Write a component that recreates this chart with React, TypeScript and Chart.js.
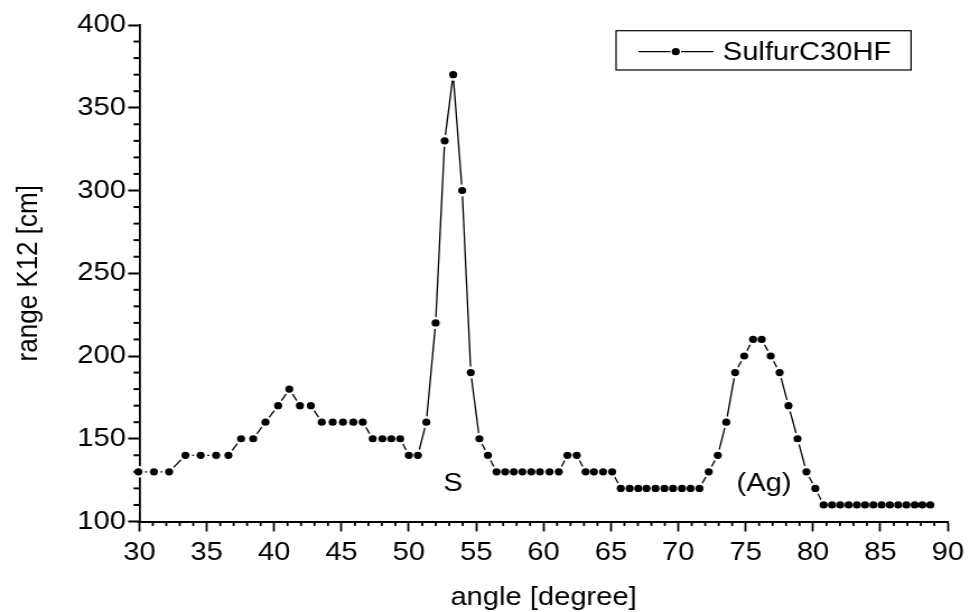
import React, { useEffect, useRef } from 'react';
import { Chart, registerables } from 'chart.js';

Chart.register(...registerables);

// ---- data ----
const SERIES_LABEL = 'SulfurC30HF';
const X_TITLE = 'angle [degree]';
const Y_TITLE = 'range K12 [cm]';

const angles = [
  29.93, 31.08, 32.21, 33.42, 34.55, 35.7, 36.61, 37.55, 38.45, 39.36,
  40.3, 41.13, 41.92, 42.73, 43.54, 44.35, 45.11, 45.88, 46.58, 47.32,
  48.04, 48.7, 49.36, 50.0, 50.67, 51.3, 51.99, 52.66, 53.29, 53.96,
  54.6, 55.24, 55.87, 56.51, 57.15, 57.79, 58.43, 59.09, 59.73, 60.44,
  61.13, 61.77, 62.46, 63.12, 63.74, 64.42, 65.09, 65.73, 66.39, 67.03,
  67.64, 68.31, 68.97, 69.61, 70.27, 70.91, 71.57, 72.26, 72.93, 73.56,
  74.22, 74.89, 75.55, 76.19, 76.86, 77.52, 78.18, 78.85, 79.51, 80.17,
  80.79, 81.41, 82.02, 82.64, 83.25, 83.86, 84.48, 85.09, 85.7, 86.32,
  86.93, 87.55, 88.11, 88.7,
];

const ranges = [
  130, 130, 130, 140, 140, 140, 140, 150, 150, 160,
  170, 180, 170, 170, 160, 160, 160, 160, 160, 150,
  150, 150, 150, 140, 140, 160, 220, 330, 370, 300,
  190, 150, 140, 130, 130, 130, 130, 130, 130, 130,
  130, 140, 140, 130, 130, 130, 130, 120, 120, 120,
  120, 120, 120, 120, 120, 120, 120, 130, 140, 160,
  190, 200, 210, 210, 200, 190, 170, 150, 130, 120,
  110, 110, 110, 110, 110, 110, 110, 110, 110, 110,
  110, 110, 110, 110,
];

const X_MIN = 30;
const X_MAX = 90;
const X_STEP = 5;
const X_MINOR = 1;
const Y_MIN = 100;
const Y_MAX = 400;
const Y_STEP = 50;
const Y_MINOR = 10;

const annotationTexts = ['S', '(Ag)'];
const annotationX = [53.27, 76.36];
const annotationY = [123, 123];

// ---- layout / style ----
const FONT = "'Liberation Sans', Arial, Helvetica, sans-serif";
const FONT_SIZE = 26;
const LOGICAL_W = 866; // drawn then stretched horizontally to 970px
const H = 612;

const minorTicksPlugin = {
  id: 'minorTicks',
  afterDraw(chart: any) {
    const { ctx, scales } = chart;
    const x = scales.x;
    const y = scales.y;
    ctx.save();
    ctx.strokeStyle = '#000';
    ctx.lineWidth = 1.8;
    for (let v = X_MIN; v <= X_MAX + 1e-9; v += X_MINOR) {
      if (Math.abs(v % X_STEP) < 1e-9) continue;
      const px = x.getPixelForValue(v);
      ctx.beginPath();
      ctx.moveTo(px, x.top);
      ctx.lineTo(px, x.top + 4.5);
      ctx.stroke();
    }
    ctx.lineWidth = 2;
    for (let v = Y_MIN; v <= Y_MAX + 1e-9; v += Y_MINOR) {
      if (Math.abs(v % Y_STEP) < 1e-9) continue;
      const py = y.getPixelForValue(v);
      ctx.beginPath();
      ctx.moveTo(y.right, py);
      ctx.lineTo(y.right - 5.2, py);
      ctx.stroke();
    }
    ctx.restore();
  },
};

const annotationPlugin = {
  id: 'annotations',
  afterDraw(chart: any) {
    const { ctx, scales } = chart;
    ctx.save();
    ctx.fillStyle = '#000';
    ctx.font = `${FONT_SIZE}px ${FONT}`;
    ctx.textAlign = 'center';
    ctx.textBaseline = 'middle';
    annotationTexts.forEach((t, i) => {
      ctx.fillText(t, scales.x.getPixelForValue(annotationX[i]), scales.y.getPixelForValue(annotationY[i]));
    });
    ctx.restore();
  },
};

const legendPlugin = {
  id: 'boxLegend',
  afterDraw(chart: any) {
    const { ctx } = chart;
    ctx.save();
    ctx.strokeStyle = '#000';
    ctx.lineWidth = 1.2;
    ctx.strokeRect(550, 30.7, 813.4 - 550, 70 - 30.7);
    const ly = 51.7;
    ctx.lineWidth = 1.3;
    ctx.beginPath();
    ctx.moveTo(569.9, ly);
    ctx.lineTo(598.6, ly);
    ctx.moveTo(608, ly);
    ctx.lineTo(636.9, ly);
    ctx.stroke();
    ctx.fillStyle = '#000';
    ctx.beginPath();
    ctx.arc(603.3, ly, 3.6, 0, Math.PI * 2);
    ctx.fill();
    ctx.font = `${FONT_SIZE}px ${FONT}`;
    ctx.textAlign = 'left';
    ctx.textBaseline = 'alphabetic';
    ctx.fillText(SERIES_LABEL, 645.3, 59.5);
    ctx.restore();
  },
};

export default function App() {
  const canvasRef = useRef<HTMLCanvasElement | null>(null);

  useEffect(() => {
    const canvas = canvasRef.current;
    if (!canvas) return;
    Chart.defaults.font.family = FONT;
    Chart.defaults.font.size = FONT_SIZE;
    Chart.defaults.color = '#000';

    const points = angles.map((a, i) => ({ x: a, y: ranges[i] }));

    const chart = new Chart(canvas, {
      type: 'scatter',
      data: {
        datasets: [
          {
            label: SERIES_LABEL + ' markers',
            data: points,
            showLine: false,
            pointRadius: 3.6,
            pointBackgroundColor: '#000',
            pointBorderWidth: 0,
            order: 0,
            clip: false,
          },
          {
            label: SERIES_LABEL,
            data: points,
            showLine: true,
            borderColor: '#000',
            borderWidth: 1.3,
            pointRadius: 6,
            pointBackgroundColor: '#fff',
            pointBorderWidth: 0,
            order: 1,
            clip: false,
          },
        ],
      },
      options: {
        animation: false,
        responsive: false,
        devicePixelRatio: 1,
        events: [],
        layout: { padding: { left: 0, top: 25, right: 14.8, bottom: 0 } },
        plugins: {
          legend: { display: false },
          tooltip: { enabled: false },
        },
        scales: {
          x: {
            type: 'linear',
            min: X_MIN,
            max: X_MAX,
            afterFit: (s: any) => {
              s.height = 90.5;
            },
            ticks: {
              stepSize: X_STEP,
              padding: 5.4,
              color: '#000',
              maxRotation: 0,
              autoSkip: false,
              font: { size: FONT_SIZE, family: FONT },
            },
            grid: {
              display: true,
              drawOnChartArea: false,
              drawTicks: true,
              tickLength: 10,
              tickWidth: 1.8,
              tickColor: '#000',
            },
            border: { display: true, color: '#000', width: 2 },
            title: {
              display: true,
              text: X_TITLE,
              color: '#000',
              font: { size: FONT_SIZE, family: FONT, lineHeight: 1 },
              padding: { top: 0, bottom: 1 },
            },
          },
          y: {
            type: 'linear',
            min: Y_MIN,
            max: Y_MAX,
            z: 1,
            afterFit: (s: any) => {
              s.width = 124.4;
            },
            ticks: {
              stepSize: Y_STEP,
              padding: 2,
              color: '#000',
              font: { size: FONT_SIZE, family: FONT },
            },
            grid: {
              display: true,
              drawOnChartArea: false,
              drawTicks: true,
              tickLength: 10,
              tickWidth: 2,
              tickColor: '#000',
            },
            border: { display: true, color: '#000', width: 1.8 },
            title: {
              display: true,
              text: Y_TITLE,
              color: '#000',
              font: { size: FONT_SIZE, family: FONT, lineHeight: 1 },
              padding: { top: 13.1, bottom: 0 },
            },
          },
        },
      },
      plugins: [minorTicksPlugin, annotationPlugin, legendPlugin],
    } as any);

    return () => {
      chart.destroy();
    };
  }, []);

  return (
    <div style={{ position: 'fixed', left: 0, top: 0, width: 970, height: H, background: '#fff' }}>
      <canvas
        ref={canvasRef}
        width={LOGICAL_W}
        height={H}
        style={{ width: '970px', height: `${H}px`, display: 'block' }}
      />
    </div>
  );
}
